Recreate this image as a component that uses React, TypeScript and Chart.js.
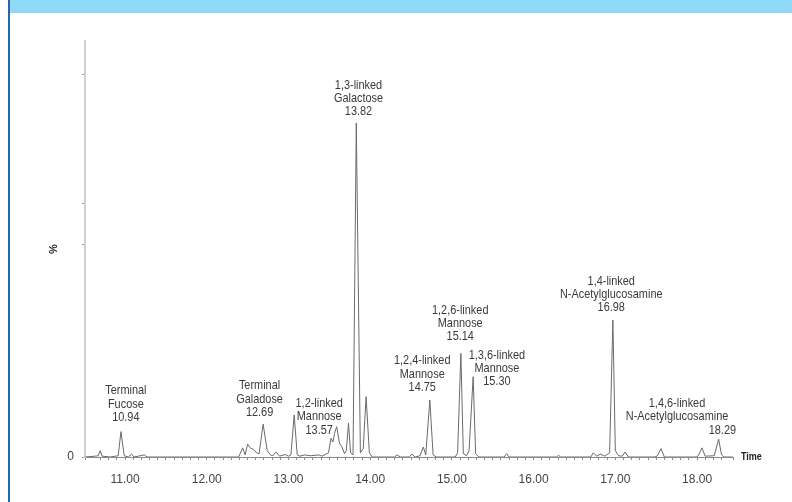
import React, { useEffect, useRef } from 'react';
import { Chart, registerables } from 'chart.js';

Chart.register(...registerables);

// Retention time (min) of each trace vertex
const times = [
  10.51, 10.635, 10.672, 10.696, 10.72, 10.818, 10.916, 10.95, 10.99, 11.04,
  11.08, 11.11, 11.234, 11.27, 12.39, 12.44, 12.47, 12.5, 12.54, 12.57,
  12.61, 12.64, 12.69, 12.74, 12.78, 12.81, 12.85, 12.89, 12.96, 13.0,
  13.03, 13.07, 13.107, 13.14, 13.2, 13.27, 13.37, 13.41, 13.49, 13.52,
  13.544, 13.564, 13.59, 13.625, 13.654, 13.686, 13.707, 13.735, 13.76, 13.79,
  13.83, 13.88, 13.915, 13.95, 13.99, 14.025, 14.3, 14.33, 14.37, 14.48, 14.51, 14.55,
  14.61, 14.65, 14.68, 14.73, 14.77, 14.81, 15.04, 15.07, 15.11, 15.14,
  15.18, 15.21, 15.26, 15.29, 15.33, 15.64, 15.67, 15.7, 16.28, 16.305, 16.33, 16.7, 16.73,
  16.77, 16.82, 16.87, 16.93, 16.97, 17.0, 17.04, 17.085, 17.12, 17.16,
  17.48, 17.51, 17.56, 17.6, 17.99, 18.015, 18.06, 18.1, 18.21, 18.264, 18.3, 18.33,
  18.44,
];

// Relative intensity (%) at each vertex
const intensities = [
  0, 0.2, 0.3, 1.5, 0.2, 0, 0.3, 6.1, 0.3, 0,
  0.7, 0, 0.5, 0, 0, 2.2, 0.5, 3.1, 2.0, 1.9,
  1.0, 0.8, 7.9, 1.5, 0.5, 0.3, 1.2, 0.2, 0.6, 0.2,
  0.5, 10.1, 0.5, 0.2, 0.5, 0.3, 0.5, 0.2, 1.0, 4.5,
  3.6, 5.7, 7.3, 3.3, 2.4, 0.8, 1.5, 8.1, 1.0, 0.5,
  80.3, 1.0, 2.0, 14.5, 1.0, 0, 0, 0.5, 0, 0, 0.7, 0,
  0.3, 2.4, 0.5, 13.7, 0.5, 0, 0, 1.0, 24.9, 0.8,
  0.3, 1.5, 19.3, 0.8, 0, 0, 0.8, 0, 0, 0.4, 0, 0, 1.0,
  0.2, 0.7, 0.2, 1.0, 32.9, 1.5, 0.3, 0.2, 1.2, 0,
  0, 0.2, 2.0, 0, 0, 0.3, 2.2, 0.2, 0.3, 4.3, 0.5, 0,
  0,
];

const xMin = 10.51;
const xMax = 18.44;
const xTickStep = 0.1;
const yTickValues = [0, 51, 61, 92];

// Peak annotations
const peakLabels = [
  ['Terminal', 'Fucose', '10.94'],
  ['Terminal', 'Galadose', '12.69'],
  ['1,2-linked', 'Mannose', '13.57'],
  ['1,3-linked', 'Galactose', '13.82'],
  ['1,2,4-linked', 'Mannose', '14.75'],
  ['1,2,6-linked', 'Mannose', '15.14'],
  ['1,3,6-linked', 'Mannose', '15.30'],
  ['1,4-linked', 'N-Acetylglucosamine', '16.98'],
  ['1,4,6-linked', 'N-Acetylglucosamine', '18.29'],
];
const labelTimes = [11.01, 12.646, 13.376, 13.857, 14.637, 15.102, 15.551, 16.95, 17.755];
const labelLastLineTimes = [11.01, 12.646, 13.376, 13.857, 14.637, 15.102, 15.551, 16.95, 18.31];
const labelLevels = [15.9, 17.1, 12.9, 89.4, 23.1, 35.3, 24.5, 42.3, 12.9];

const yTitle = '%';
const xTitle = 'Time';

const FONT = '"Liberation Sans", Arial, sans-serif';
const CONDENSE = 0.84;

function drawCondensed(ctx: CanvasRenderingContext2D, txt: string, x: number, y: number, k: number) {
  ctx.save();
  ctx.translate(x, y);
  ctx.scale(k, 1);
  ctx.fillText(txt, 0, 0);
  ctx.restore();
}

const annotationPlugin = {
  id: 'annotations',
  afterDatasetsDraw(chart: any) {
    const { ctx, chartArea, scales } = chart;
    const xs = scales.x;
    const ys = scales.y;
    ctx.save();
    ctx.fillStyle = '#3a3a3a';
    ctx.font = `13px ${FONT}`;
    ctx.textAlign = 'center';
    ctx.textBaseline = 'middle';
    const lh = 13.3;
    peakLabels.forEach((lines, i) => {
      const y0 = ys.getPixelForValue(labelLevels[i]);
      lines.forEach((txt, j) => {
        const t = j === lines.length - 1 ? labelLastLineTimes[i] : labelTimes[i];
        drawCondensed(ctx, txt, xs.getPixelForValue(t), y0 + j * lh, CONDENSE);
      });
    });
    // axis titles
    ctx.fillStyle = '#222';
    ctx.font = `bold 11px ${FONT}`;
    ctx.textAlign = 'left';
    drawCondensed(ctx, xTitle, chartArea.right + 8, chartArea.bottom, 0.82);
    ctx.translate(chartArea.left - 31, (chartArea.top + chartArea.bottom) / 2);
    ctx.rotate(-Math.PI / 2);
    ctx.textAlign = 'center';
    ctx.fillText(yTitle, 0, 0);
    ctx.restore();
  },
};

export default function App() {
  const canvasRef = useRef<HTMLCanvasElement | null>(null);

  useEffect(() => {
    if (!canvasRef.current) return;
    const points = times.map((t, i) => ({ x: t, y: intensities[i] }));
    const chart = new Chart(canvasRef.current, {
      type: 'line',
      data: {
        datasets: [
          {
            data: points,
            borderColor: '#6a6a6a',
            borderWidth: 1,
            pointRadius: 0,
            tension: 0,
            fill: false,
          },
        ],
      },
      options: {
        animation: false,
        responsive: false,
        devicePixelRatio: 1,
        layout: { padding: { left: 0, right: 59, top: 41, bottom: 0 } },
        plugins: {
          legend: { display: false },
          tooltip: { enabled: false },
          title: { display: false },
        },
        scales: {
          x: {
            type: 'linear',
            min: xMin,
            max: xMax,
            afterFit: (s: any) => {
              s.height = 45;
            },
            border: { display: true, color: '#8a8a8a', width: 1 },
            grid: {
              display: true,
              drawOnChartArea: false,
              drawTicks: true,
              tickLength: 3,
              color: '#8a8a8a',
            },
            ticks: {
              stepSize: xTickStep,
              autoSkip: false,
              maxRotation: 0,
              padding: 12,
              color: '#444',
              font: { family: FONT, size: 12 },
              callback: (v: any) => {
                const n = Number(v);
                return Math.abs(n - Math.round(n)) < 1e-6 ? n.toFixed(2) : '';
              },
            },
          },
          y: {
            type: 'linear',
            min: 0,
            max: 100,
            afterFit: (s: any) => {
              s.width = 85;
            },
            afterBuildTicks: (s: any) => {
              s.ticks = yTickValues.map((v) => ({ value: v }));
            },
            border: { display: true, color: '#d0d0d0', width: 2 },
            grid: {
              display: true,
              drawOnChartArea: false,
              drawTicks: true,
              tickLength: 3,
              color: '#a0a0a0',
            },
            ticks: {
              padding: 8,
              color: '#444',
              font: { family: FONT, size: 12 },
              callback: (v: any) => (Number(v) === 0 ? '0' : ''),
            },
          },
        },
      },
      plugins: [annotationPlugin],
    });
    return () => chart.destroy();
  }, []);

  return (
    <div
      style={{
        position: 'absolute',
        left: 0,
        top: 0,
        width: 792,
        height: 502,
        background: '#fff',
        overflow: 'hidden',
      }}
    >
      <canvas ref={canvasRef} width={792} height={502} style={{ position: 'absolute', left: 0, top: 0 }} />
      <div style={{ position: 'absolute', left: 10, top: 0, width: 782, height: 13, background: '#8fd9f6' }} />
      <div style={{ position: 'absolute', left: 8, top: 0, width: 2, height: 502, background: '#2667a3' }} />
    </div>
  );
}
